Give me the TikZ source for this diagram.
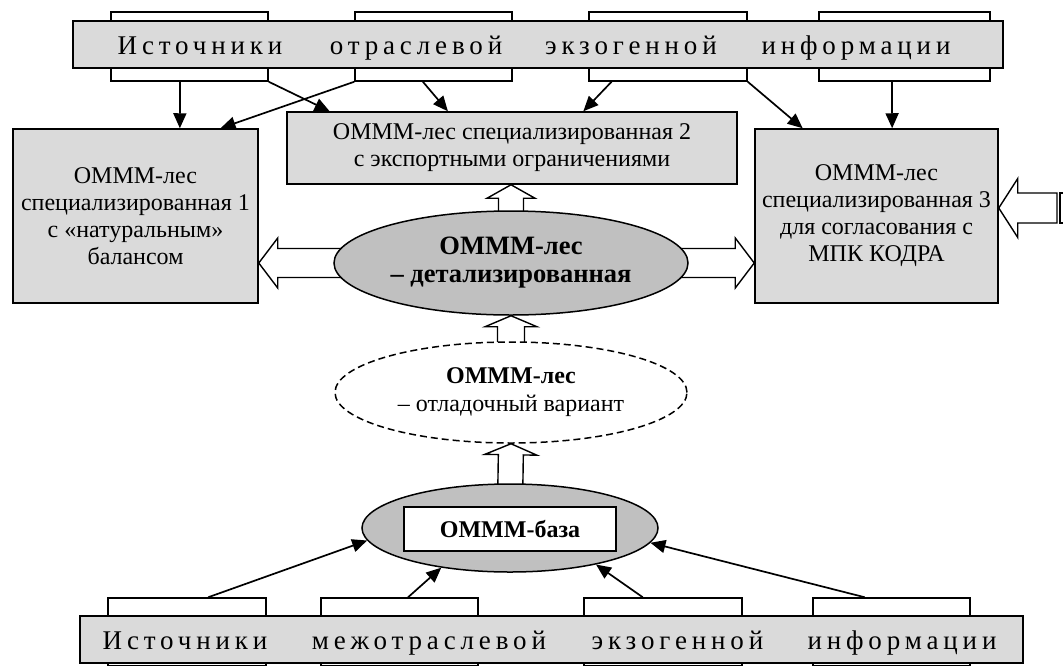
\documentclass[tikz,border=0pt]{standalone}
\usepackage{fontspec}
\setmainfont{Liberation Serif}
\newfontfamily\bandfont[LetterSpace=18]{Liberation Serif}
\usetikzlibrary{arrows.meta,calc,shapes.geometric}

\definecolor{boxgray}{HTML}{DADADA}
\definecolor{ellgray}{HTML}{C0C0C0}

\pgfdeclarelayer{back}
\pgfsetlayers{back,main}

\tikzset{
  box/.style={draw, line width=1.5pt, fill=boxgray, align=center, inner sep=0pt,
    font=\fontsize{24}{27}\selectfont},
  tab/.style={draw, line width=1.5pt, fill=white, inner sep=0pt},
  band/.style={draw, line width=1.5pt, fill=boxgray, inner sep=0pt},
  bandword/.style={font=\fontsize{27}{30}\bandfont, inner sep=0pt, anchor=base},
  oval/.style={ellipse, draw, line width=1.5pt, inner sep=0pt, align=center},
  link/.style={line width=1.7pt, -{Triangle[length=15pt,width=13pt]}},
  fat/.style={draw, line width=1.4pt, fill=white, line join=miter},
}

% hollow block arrow: tail, tip, shaft half-width, head half-width, head length
\newcommand\fatarrow[5]{%
  \path[fat] let \p1=#1, \p2=#2,
      \n1={atan2(\y2-\y1,\x2-\x1)}, \n2={veclen(\x2-\x1,\y2-\y1)} in
       ([shift={(\p1)},rotate=\n1]0,{#3})
    -- ([shift={(\p1)},rotate=\n1]{\n2-#5},{#3})
    -- ([shift={(\p1)},rotate=\n1]{\n2-#5},{#4})
    -- (\p2)
    -- ([shift={(\p1)},rotate=\n1]{\n2-#5},{-#4})
    -- ([shift={(\p1)},rotate=\n1]{\n2-#5},{-#3})
    -- ([shift={(\p1)},rotate=\n1]0,{-#3})
    -- cycle;}

\begin{document}
\begin{tikzpicture}[x=1pt,y=-1pt]
\useasboundingbox (0,0) rectangle (1063,665);

% ---- top band: sources of sectoral exogenous information
\node[tab, minimum width=157pt, minimum height=69pt] (tt1) at (189.5,46.5) {};
\node[tab, minimum width=157pt, minimum height=69pt] (tt2) at (433.5,46.5) {};
\node[tab, minimum width=158pt, minimum height=69pt] (tt3) at (668,46.5) {};
\node[tab, minimum width=171pt, minimum height=69pt] (tt4) at (904.5,46.5) {};
\node[band, minimum width=930pt, minimum height=47pt] (topband) at (538,44.5) {};
\node[bandword] (tw1) at (200,54) {Источники};
\node[bandword] (tw2) at (416,54) {отраслевой};
\node[bandword] (tw3) at (631,54) {экзогенной};
\node[bandword] (tw4) at (856,54) {информации};

% ---- specialised model boxes
\node[box, minimum width=245pt, minimum height=174pt] (b1) at (135.5,216)
  {ОМММ-лес\\специализированная 1\\с «натуральным»\\балансом};
\node[box, minimum width=450pt, minimum height=72pt] (b2) at (512,148)
  {ОМММ-лес специализированная 2\\с экспортными ограничениями};
\node[box, minimum width=243pt, minimum height=174pt] (b3) at (876.5,216)
  {ОМММ-лес\\специализированная 3\\для согласования с\\МПК КОДРА};

% ---- central ellipses
\node[oval, fill=ellgray, minimum width=354pt, minimum height=104pt,
      font=\fontsize{26.5}{28}\selectfont\bfseries] (main) at (511,263)
  {ОМММ-лес\\– детализированная};
\node[oval, fill=white, dash pattern=on 7pt off 4pt, minimum width=352pt, minimum height=101pt,
      font=\fontsize{24}{28}\selectfont] (dash) at (511,392.5)
  {\textbf{ОМММ-лес}\\– отладочный вариант};
\node[oval, fill=ellgray, minimum width=296pt, minimum height=88pt] (base) at (510,528) {};
\node[draw, line width=1.5pt, fill=white, minimum width=212pt, minimum height=44pt, inner sep=0pt,
      font=\fontsize{24}{27}\selectfont\bfseries] (basebox) at (510,529) {ОМММ-база};

% ---- bottom band: sources of intersectoral exogenous information
\node[tab, minimum width=158pt, minimum height=68pt] (bt1) at (187,632) {};
\node[tab, minimum width=157pt, minimum height=68pt] (bt2) at (399.5,632) {};
\node[tab, minimum width=158pt, minimum height=68pt] (bt3) at (663,632) {};
\node[tab, minimum width=157pt, minimum height=68pt] (bt4) at (891.5,632) {};
\node[band, minimum width=943pt, minimum height=47pt] (botband) at (551.5,639.5) {};
\node[bandword] (bw1) at (185,649) {Источники};
\node[bandword] (bw2) at (429,649) {межотраслевой};
\node[bandword] (bw3) at (677.5,649) {экзогенной};
\node[bandword] (bw4) at (902,649) {информации};

% ---- hollow block arrows behind the ellipses
\begin{pgfonlayer}{back}
  \fatarrow{($(main.center)+(-120,0)$)}{(b1.east |- main.center)}{14.5}{25}{19}
  \fatarrow{($(main.center)+(120,0)$)}{(b3.west |- main.center)}{14.5}{25}{19}
  \fatarrow{($(main.center)+(0,-30)$)}{(main.center |- b2.south)}{12.5}{24}{13.5}
  \fatarrow{($(dash.center)+(0,-20)$)}{(main.south)}{13.5}{26}{11}
  \fatarrow{($(base.center)+(0,-20)$)}{(dash.south)}{12.5}{26}{11}
\end{pgfonlayer}

% ---- incoming block arrow at the right edge
\coordinate (feed) at (1057,208);
\fatarrow{(feed)}{($(b3.east)+(0,-8)$)}{15}{29.5}{19}
\draw[line width=1.4pt] (1063,193) -- (1060,193) -- (1060,223) -- (1063,223);

% ---- thin arrows from the top sources
\draw[link] ($(tt1.south west)!.44!(tt1.south east)$) -- ($(b1.north west)!.68!(b1.north east)$);
\draw[link] (tt1.south east) -- ($(b2.north west)!.096!(b2.north east)$);
\draw[link] (tt2.south west) -- ($(b1.north west)!.845!(b1.north east)$);
\draw[link] ($(tt2.south west)!.433!(tt2.south east)$) -- ($(b2.north west)!.358!(b2.north east)$);
\draw[link] ($(tt3.south west)!.146!(tt3.south east)$) -- ($(b2.north west)!.658!(b2.north east)$);
\draw[link] (tt3.south east) -- ($(b3.north west)!.198!(b3.north east)$);
\draw[link] ($(tt4.south west)!.427!(tt4.south east)$) -- ($(b3.north west)!.564!(b3.north east)$);

% ---- thin arrows from the bottom sources
\draw[link] ($(bt1.north west)!.633!(bt1.north east)$) -- (base.185);
\draw[link] ($(bt2.north west)!.554!(bt2.north east)$) -- (base.210);
\draw[link] ($(bt3.north west)!.373!(bt3.north east)$) -- (base.337);
\draw[link] ($(bt4.north west)!.331!(bt4.north east)$) -- (base.354);
\end{tikzpicture}
\end{document}
